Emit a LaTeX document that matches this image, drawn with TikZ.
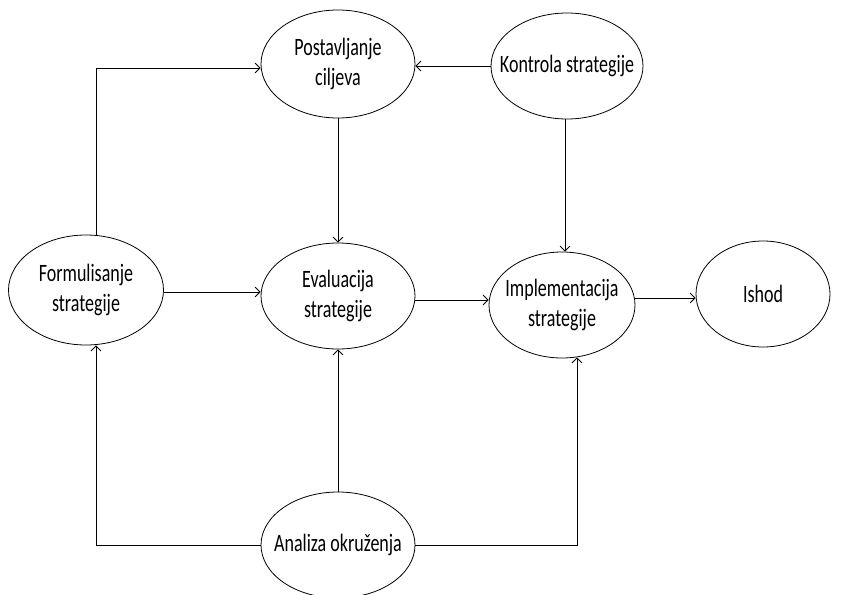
\documentclass[tikz,border=0pt]{standalone}
\usepackage{fontspec}
\setmainfont{Carlito}[FakeStretch=0.72]
\usetikzlibrary{shapes.geometric,arrows.meta}
\begin{document}
\begin{tikzpicture}[x=1pt,y=-1pt,
  el/.style={ellipse,draw,line width=0.8pt,fill=white,inner sep=0pt},
  lbl/.style={align=center,inner sep=0pt,font=\fontsize{25}{30}\selectfont},
  arr/.style={line width=0.8pt,-{Straight Barb[length=5pt,width=10pt,line width=0.8pt]}}]
\useasboundingbox (0,0) rectangle (842,594);
\node[el,minimum width=154pt,minimum height=108pt,label={[lbl]center:Postavljanje\\ciljeva}] (post) at (338,64) {};
\node[el,minimum width=152pt,minimum height=106pt,label={[lbl]center:Kontrola strategije}] (kon) at (567,66) {};
\node[el,minimum width=155pt,minimum height=110pt,label={[lbl]center:Formulisanje\\strategije}] (form) at (86,290) {};
\node[el,minimum width=154pt,minimum height=106pt,label={[lbl]center:Evaluacija\\strategije}] (eval) at (338,296) {};
\node[el,minimum width=146pt,minimum height=106pt,label={[lbl]center:Implementacija\\strategije}] (impl) at (562,305) {};
\node[el,minimum width=134pt,minimum height=106pt,label={[lbl]center:Ishod}] (ishod) at (763,294) {};
\node[el,minimum width=154pt,minimum height=106pt,label={[lbl]center:Analiza okruženja}] (ana) at (338,545) {};

\draw[arr] ([xshift=10pt]form.north) |- ([yshift=-4pt]post.west);
\draw[arr] (kon.west) -- (kon.west -| post.east);
\draw[arr] (post.south) -- (eval.north);
\draw[arr] ([xshift=-2pt]kon.south) -- ([xshift=3pt]impl.north);
\draw[arr] ([yshift=-2pt]form.east) -- ([yshift=-2pt]form.east -| eval.west);
\draw[arr] ([yshift=-4pt]eval.east) -- ([yshift=-4pt]eval.east -| impl.west);
\draw[arr] ([yshift=7pt]impl.east) -- ([yshift=7pt]impl.east -| ishod.west);
\draw[arr] (ana.north) -- (eval.south);
\draw[arr] (ana.west) -| ([xshift=10pt]form.south);
\draw[arr] (ana.east) -| ([xshift=15pt,yshift=1pt]impl.south);
\end{tikzpicture}
\end{document}
